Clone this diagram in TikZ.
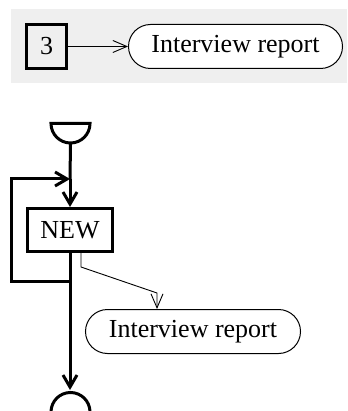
\documentclass[tikz,border=0pt]{standalone}
\usepackage{fontspec}
\setmainfont{Liberation Serif}
\usetikzlibrary{arrows.meta,shapes.misc}
\definecolor{panelgray}{RGB}{239,239,239}
\tikzset{
  x=1pt, y=1pt,
  lbl/.style={font=\fontsize{26}{30}\selectfont, inner sep=0pt},
  thickbox/.style={lbl, draw, line width=3pt, rectangle},
  docnode/.style={lbl, draw, fill=white, line width=1pt, rounded rectangle, minimum width=214pt, minimum height=44pt},
  thinarrow/.style={line width=0.9pt, -{Straight Barb[length=14pt,width=12pt]}},
  flow/.style={line width=3pt},
  flowarrow/.style={flow, -{Straight Barb[length=12pt,width=14pt]}},
  terminal/.style={line width=3pt, fill=white}
}
\begin{document}
\begin{tikzpicture}
\useasboundingbox (0,0) rectangle (347,-411);

% legend panel
\fill[panelgray] (11,-9) rectangle (347,-83);
\node[thickbox, minimum width=40pt, minimum height=44pt] (three) at (46.5,-46.5) {3};
\node[docnode] (rep1) at (235.5,-46.5) {Interview report};
\draw[thinarrow] (three.east) -- (rep1.west);

% flow: start terminal
\draw[terminal] (51,-123.5) -- (90,-123.5) arc[start angle=0, end angle=-180, radius=19.5] -- cycle;
\coordinate (start) at (70.5,-143);

% process box
\node[thickbox, minimum width=85pt, minimum height=43pt] (new) at (70,-230) {NEW};
\coordinate (join) at (70,-179);
\coordinate (back) at (70,-281);

\draw[flow] (start) -- (join);
\draw[flowarrow] (join) -- (new.north);

% loop back
\draw[flowarrow, line join=miter] (back) -- (11.5,-281) -- (11.5,-179) -- (join);

% output document
\node[docnode, minimum width=215pt] (rep2) at (193,-331.5) {Interview report};
\coordinate (bend) at (81,-267);
\coordinate (drop) at (157,-293);
\draw[thinarrow] (new.south -| bend) -- (bend) -- (drop) -- (drop |- rep2.north);

% end terminal
\coordinate (stop) at (70,-390);
\draw[flowarrow] (new.south) -- (stop);
\draw[terminal] (51,-412) arc[start angle=180, end angle=0, radius=19.5];
\end{tikzpicture}
\end{document}
